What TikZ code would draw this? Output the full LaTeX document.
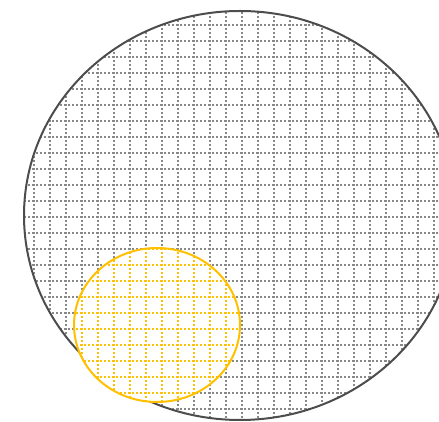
\documentclass[tikz,border=0pt]{standalone}
\definecolor{rimgray}{HTML}{4D4D4D}
\definecolor{dotgray}{HTML}{888888}
\definecolor{amber}{HTML}{FFC000}
\begin{document}
\begin{tikzpicture}[x=1pt,y=1pt,
  rim/.style={line width=2pt,draw=rimgray},
  smallrim/.style={line width=2pt,draw=amber},
  gridline/.style={dotgray,line width=1.5pt,dash pattern=on 1.5pt off 2.5pt},
  ambergrid/.style={amber,line width=1.7pt,dash pattern=on 1.7pt off 2.3pt}]
\useasboundingbox (0,0) rectangle (439,422);
\clip (0,0) rectangle (439,422);
\begin{scope}
\clip (240,206.5) ellipse [x radius=216,y radius=204.5];
\foreach \i in {0,...,28} \draw[gridline] (2+16*\i,0) -- (2+16*\i,422);
\foreach \i in {0,...,26} \draw[gridline] (0,13.2+16*\i) -- (460,13.2+16*\i);
\end{scope}
\draw[rim] (240,206.5) ellipse [x radius=216,y radius=204.5];
\fill[white] (157,97) ellipse [x radius=83,y radius=77];
\begin{scope}
\clip (157,97) ellipse [x radius=83,y radius=77];
\foreach \i in {4,...,15} \draw[ambergrid] (2+16*\i,0) -- (2+16*\i,200);
\foreach \i in {0,...,12} \draw[ambergrid] (60,13.2+16*\i) -- (260,13.2+16*\i);
\end{scope}
\draw[smallrim] (157,97) ellipse [x radius=83,y radius=77];
\end{tikzpicture}
\end{document}
